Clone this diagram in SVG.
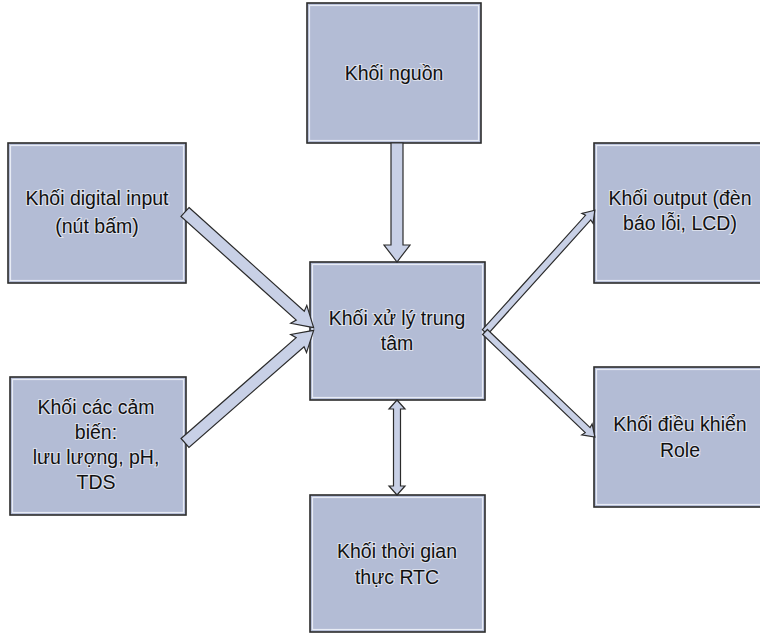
<svg xmlns="http://www.w3.org/2000/svg" width="760" height="634" viewBox="0 0 760 634">
<style>
.box{fill:#b3bcd5;stroke:#2b2b2b;stroke-width:1.6}
.inner{fill:none;stroke:#e8ecf5;stroke-width:1.2}
.t{font-family:"Liberation Sans",Arial,sans-serif;font-size:19.5px;fill:#111;text-anchor:middle;stroke:#ffffff;stroke-width:2.2;stroke-opacity:0.55;paint-order:stroke}
.arr{fill:#c8d0e6;stroke:#2b2b2b;stroke-width:1.2;stroke-linejoin:miter}
</style>
<rect width="760" height="634" fill="#ffffff"/>
<g id="nguon">
<rect class="box" x="307" y="3" width="174" height="140"/>
<rect class="inner" x="309.5" y="5.5" width="169" height="135"/>
<text class="t" x="394" y="80">Khối nguồn</text>
</g>
<g id="digital">
<rect class="box" x="8" y="143" width="178" height="140"/>
<rect class="inner" x="10.5" y="145.5" width="173" height="135"/>
<text class="t" x="97" y="205">Khối digital input</text>
<text class="t" x="97" y="233">(nút bấm)</text>
</g>
<g id="trungtam">
<rect class="box" x="310" y="262" width="175" height="138"/>
<rect class="inner" x="312.5" y="264.5" width="170" height="133"/>
<text class="t" x="397" y="325">Khối xử lý trung</text>
<text class="t" x="397" y="350">tâm</text>
</g>
<g id="output">
<rect class="box" x="594" y="143" width="172" height="140"/>
<rect class="inner" x="596.5" y="145.5" width="167" height="135"/>
<text class="t" x="680" y="205">Khối output (đèn</text>
<text class="t" x="680" y="230">báo lỗi, LCD)</text>
</g>
<g id="camien">
<rect class="box" x="10" y="377" width="176" height="138"/>
<rect class="inner" x="12.5" y="379.5" width="171" height="133"/>
<text class="t" x="96" y="414">Khối các cảm</text>
<text class="t" x="96" y="439">biến:</text>
<text class="t" x="96" y="464">lưu lượng, pH,</text>
<text class="t" x="96" y="489">TDS</text>
</g>
<g id="role">
<rect class="box" x="594" y="367" width="172" height="140"/>
<rect class="inner" x="596.5" y="369.5" width="167" height="135"/>
<text class="t" x="680" y="431">Khối điều khiển</text>
<text class="t" x="680" y="457">Role</text>
</g>
<g id="rtc">
<rect class="box" x="310" y="495" width="175" height="137"/>
<rect class="inner" x="312.5" y="497.5" width="170" height="132"/>
<text class="t" x="397" y="558">Khối thời gian</text>
<text class="t" x="397" y="584">thực RTC</text>
</g>
<g id="connectors">
<path class="arr" transform="translate(397,143) rotate(90)" d="M0,-6 L102,-6 L102,-13 L119,0 L102,13 L102,6 L0,6 Z"/>
<path class="arr" transform="translate(185,212) rotate(41.96)" d="M0,-6 L155,-6 L153,-12 L173,0 L153,12 L155,6 L0,6 Z"/>
<path class="arr" transform="translate(185,443) rotate(-41.2)" d="M0,-6 L153,-6 L151,-12 L171,0 L151,12 L153,6 L0,6 Z"/>
<path class="arr" transform="translate(485,332) rotate(-47.96)" d="M0,-3.5 L154,-3.5 L153,-7.5 L164,0 L153,7.5 L154,3.5 L0,3.5 Z"/>
<path class="arr" transform="translate(485,332) rotate(43.7)" d="M0,-3.5 L142,-3.5 L141,-7.5 L152,0 L141,7.5 L142,3.5 L0,3.5 Z"/>
<path class="arr" transform="translate(397,400) rotate(90)" d="M0,0 L9,-8 L9,-3.5 L86,-3.5 L86,-8 L95,0 L86,8 L86,3.5 L9,3.5 L9,8 Z"/>
</g>
</svg>
